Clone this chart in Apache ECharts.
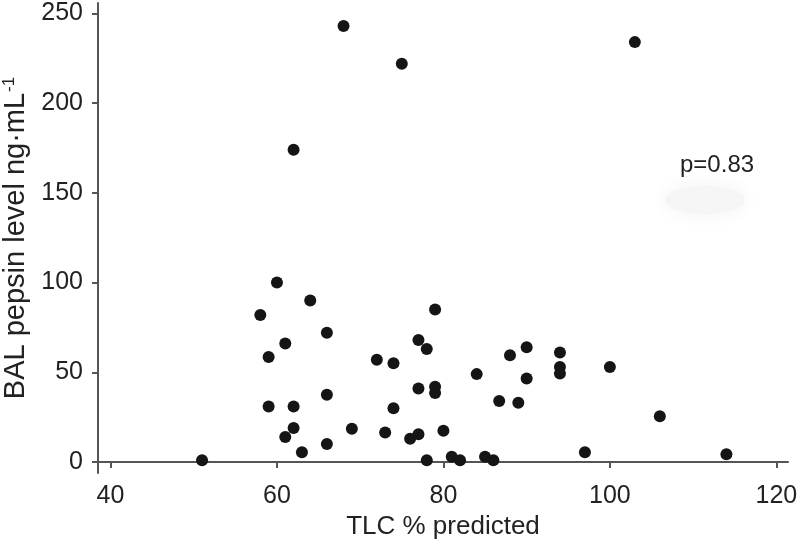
<!DOCTYPE html>
<html>
<head>
<meta charset="utf-8">
<script src="https://cdn.jsdelivr.net/npm/echarts@6/dist/echarts.min.js"></script>
<style>
  html, body { margin: 0; padding: 0; background: #fff; }
  #grafico { width: 800px; height: 544px; }
</style>
</head>
<body>
<div id="grafico"></div>
<script>
// Datos
const tlcPredicho = [51, 60, 58, 64, 61, 59, 66, 79, 77, 78, 72, 74, 84, 86.7, 59, 62, 66, 77, 79, 79,
    74, 62, 61, 69, 73, 76, 77, 80, 63, 66, 78, 81, 82, 85, 86, 89, 88, 90, 90, 94,
    94, 94, 100, 106, 97, 114, 68, 75, 62, 103];
const pepsinaBAL = [1, 100, 82, 90, 66, 58.5, 72, 85, 68, 63, 57, 55, 49, 34, 31, 31, 37.5, 41, 42, 38.5,
    30, 19, 14, 18.5, 16.5, 13, 15.5, 17.5, 5.5, 10, 1, 3, 1, 3, 1, 33, 59.5, 64, 46.5, 61,
    53, 49.3, 53, 25.5, 5.5, 4.3, 243, 222, 174, 234];
const ticksX = [40, 60, 80, 100, 120];
const ticksY = [0, 50, 100, 150, 200, 250];
const textoP = 'p=0.83';

const chartDom = document.getElementById('grafico');
const myChart = echarts.init(chartDom, null, {renderer: 'canvas'});

const fuente = '"Liberation Sans", Arial, sans-serif';
const colorEje = '#555';

const option = {
    backgroundColor: '#fff',
    animation: false,
    grid: { left: 98, right: 12, top: 3, bottom: 71, outerBoundsMode: 'none' },
    xAxis: {
        type: 'value',
        min: 38.5,
        max: 121.4,
        name: 'TLC % predicted',
        nameLocation: 'middle',
        nameGap: 35,
        nameTextStyle: { fontFamily: fuente, fontSize: 26, color: '#222' },
        splitLine: { show: false },
        axisLine: { lineStyle: { color: colorEje, width: 2 } },
        axisTick: { customValues: ticksX, length: 6, lineStyle: { color: colorEje, width: 2 } },
        axisLabel: { customValues: ticksX, margin: 11, fontFamily: fuente, fontSize: 25, color: '#222' }
    },
    yAxis: {
        type: 'value',
        min: -6.1,
        max: 255.8,
        name: '{n|BAL pepsin level ng·mL}{s|-1}',
        nameLocation: 'middle',
        nameGap: 58,
        nameTextStyle: {
            rich: {
                n: { fontFamily: fuente, fontSize: 29, lineHeight: 30, color: '#222' },
                s: { fontFamily: fuente, fontSize: 17, lineHeight: 30, color: '#222', verticalAlign: 'top', padding: [0, 0, 12, 1] }
            }
        },
        splitLine: { show: false },
        axisLine: { show: true, lineStyle: { color: colorEje, width: 2 } },
        axisTick: { show: true, customValues: ticksY, length: 6, lineStyle: { color: colorEje, width: 2 } },
        axisLabel: { customValues: ticksY, margin: 15, fontFamily: fuente, fontSize: 25, color: '#222' }
    },
    graphic: [
        {
            type: 'ellipse',
            shape: { cx: 705, cy: 200, rx: 40, ry: 14 },
            style: { fill: '#f5f5f5', shadowBlur: 20, shadowColor: '#f2f2f2' },
            z: 0
        },
        {
            type: 'text',
            left: 680,
            top: 153,
            style: { text: textoP, fontFamily: fuente, fontSize: 24, fill: '#222' }
        }
    ],
    series: [
        {
            type: 'scatter',
            symbolSize: 12,
            itemStyle: { color: '#151515', opacity: 1 },
            data: tlcPredicho.map((x, i) => [x, pepsinaBAL[i]])
        }
    ]
};

myChart.setOption(option);
</script>
</body>
</html>
